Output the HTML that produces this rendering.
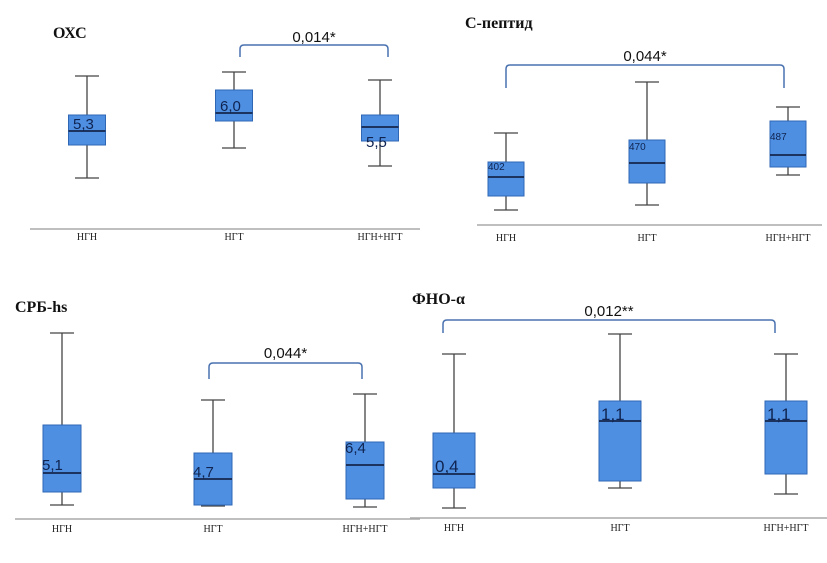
<!DOCTYPE html>
<html><head><meta charset="utf-8">
<style>
html,body{margin:0;padding:0;background:#fff;}
svg{display:block;}
.title{font-family:"Liberation Serif",serif;font-weight:bold;font-size:16px;fill:#111;}
.cat{font-family:"Liberation Serif",serif;font-size:10px;fill:#222;}
.pv{font-family:"Liberation Sans",sans-serif;font-size:15px;fill:#111;}
.lbl{font-family:"Liberation Sans",sans-serif;fill:#0f2450;}
</style></head>
<body>
<svg id="chart" width="827" height="563" viewBox="0 0 827 563" xmlns="http://www.w3.org/2000/svg"></svg>
<script>
// Categories shared by all panels
const categories = ["НГН", "НГТ", "НГН+НГТ"];
const panelTitles = ["ОХС", "С-пептид", "СРБ-hs", "ФНО-α"];
const pValues = ["0,014*", "0,044*", "0,044*", "0,012**"];
const bracketFrom = [1, 0, 1, 0];
const bracketTo = [2, 2, 2, 2];

// Panel 1 – ОХС
const oxcWhiskerLow = [2.55, 4.05, 3.15];
const oxcQ1 = [4.2, 5.4, 4.4];
const oxcMedian = [4.9, 5.8, 5.1];
const oxcQ3 = [5.7, 6.95, 5.7];
const oxcWhiskerHigh = [7.65, 7.85, 7.45];
const oxcLabels = ["5,3", "6,0", "5,5"];
const oxcLabelAt = [5.0, 5.9, 4.1];

// Panel 2 – С-пептид
const cpWhiskerLow = [30, 40, 100];
const cpQ1 = [58, 84, 116];
const cpMedian = [96, 124, 140];
const cpQ3 = [126, 170, 208];
const cpWhiskerHigh = [184, 286, 236];
const cpLabels = ["402", "470", "487"];
const cpLabelAt = [110, 150, 170];

// Panel 3 – СРБ-hs
const crpWhiskerLow = [1.4, 1.3, 1.2];
const crpQ1 = [2.7, 1.4, 2.0];
const crpMedian = [4.6, 4.0, 5.4];
const crpQ3 = [9.4, 6.6, 7.7];
const crpWhiskerHigh = [18.6, 11.9, 12.5];
const crpLabels = ["5,1", "4,7", "6,4"];
const crpLabelAt = [4.9, 4.2, 6.6];

// Panel 4 – ФНО-α
const tnfWhiskerLow = [0.25, 0.75, 0.6];
const tnfQ1 = [0.75, 0.925, 1.1];
const tnfMedian = [1.1, 2.425, 2.425];
const tnfQ3 = [2.125, 2.925, 2.925];
const tnfWhiskerHigh = [4.1, 4.6, 4.1];
const tnfLabels = ["0,4", "1,1", "1,1"];
const tnfLabelAt = [1.15, 2.45, 2.45];

const NS = "http://www.w3.org/2000/svg";
const svg = document.getElementById("chart");
function mk(tag, attrs, parent){
  const e = document.createElementNS(NS, tag);
  for (const k in attrs) e.setAttribute(k, attrs[k]);
  (parent || svg).appendChild(e);
  return e;
}

const panels = [
  {wl:oxcWhiskerLow,q1:oxcQ1,md:oxcMedian,q3:oxcQ3,wh:oxcWhiskerHigh,lab:oxcLabels,labAt:oxcLabelAt,
   base:229, ppu:20, xs:[87,234,380], bw:37, axis:[30,420], catY:240, titleX:53, titleY:38,
   brY:45, brDrop:12, brX:[240,388], pvY:42, lblSize:15, lblDx:-14},
  {wl:cpWhiskerLow,q1:cpQ1,md:cpMedian,q3:cpQ3,wh:cpWhiskerHigh,lab:cpLabels,labAt:cpLabelAt,
   base:225, ppu:0.5, xs:[506,647,788], bw:36, axis:[477,822], catY:241, titleX:465, titleY:28,
   brY:65, brDrop:23, brX:[506,784], pvY:61, lblSize:10, lblDx:-18},
  {wl:crpWhiskerLow,q1:crpQ1,md:crpMedian,q3:crpQ3,wh:crpWhiskerHigh,lab:crpLabels,labAt:crpLabelAt,
   base:519, ppu:10, xs:[62,213,365], bw:38, axis:[15,420], catY:532, titleX:15, titleY:312,
   brY:363, brDrop:16, brX:[209,362], pvY:358, lblSize:15, lblDx:-20},
  {wl:tnfWhiskerLow,q1:tnfQ1,md:tnfMedian,q3:tnfQ3,wh:tnfWhiskerHigh,lab:tnfLabels,labAt:tnfLabelAt,
   base:518, ppu:40, xs:[454,620,786], bw:42, axis:[410,827], catY:531, titleX:412, titleY:304,
   brY:320, brDrop:13, brX:[443,775], pvY:316, lblSize:17, lblDx:-19}
];

panels.forEach((p, pi) => {
  const g = mk("g", {});
  
  
  const y = v => p.base - v * p.ppu;

  const t = mk("text", {x:p.titleX, y:p.titleY, class:"title"}, g);
  t.textContent = panelTitles[pi];
  
  

  const ax = mk("line", {x1:p.axis[0], x2:p.axis[1], y1:p.base, y2:p.base, stroke:"#aaa", "stroke-width":1.5}, g);
  
  

  categories.forEach((c, i) => {
    const x = p.xs[i];
    const bg = mk("g", {}, g);
    
    
    mk("line", {x1:x, x2:x, y1:y(p.wh[i]), y2:y(p.wl[i]), stroke:"#444", "stroke-width":1.3}, bg);
    mk("line", {x1:x-12, x2:x+12, y1:y(p.wh[i]), y2:y(p.wh[i]), stroke:"#444", "stroke-width":1.3}, bg);
    mk("line", {x1:x-12, x2:x+12, y1:y(p.wl[i]), y2:y(p.wl[i]), stroke:"#444", "stroke-width":1.3}, bg);
    mk("rect", {x:x-p.bw/2, y:y(p.q3[i]), width:p.bw, height:y(p.q1[i])-y(p.q3[i]), fill:"#4f8fe2", stroke:"#2f67b5", "stroke-width":1}, bg);
    mk("line", {x1:x-p.bw/2, x2:x+p.bw/2, y1:y(p.md[i]), y2:y(p.md[i]), stroke:"#14264d", "stroke-width":1.8}, bg);
    const lt = mk("text", {x:x+p.lblDx, y:y(p.labAt[i]), class:"lbl", "font-size":p.lblSize}, bg);
    lt.textContent = p.lab[i];
    
    
    const ct = mk("text", {x:x, y:p.catY, class:"cat", "text-anchor":"middle"}, g);
    ct.textContent = c;
    
    
  });

  const bx1 = p.brX[0], bx2 = p.brX[1];
  const br = mk("path", {d:`M${bx1},${p.brY+p.brDrop} L${bx1},${p.brY+4} Q${bx1},${p.brY} ${bx1+4},${p.brY} L${bx2-4},${p.brY} Q${bx2},${p.brY} ${bx2},${p.brY+4} L${bx2},${p.brY+p.brDrop}`, fill:"none", stroke:"#4a72b0", "stroke-width":1.5}, g);
  
  
  const pv = mk("text", {x:(bx1+bx2)/2, y:p.pvY, class:"pv", "text-anchor":"middle"}, g);
  pv.textContent = pValues[pi];
  
  
});
</script>
</body></html>
